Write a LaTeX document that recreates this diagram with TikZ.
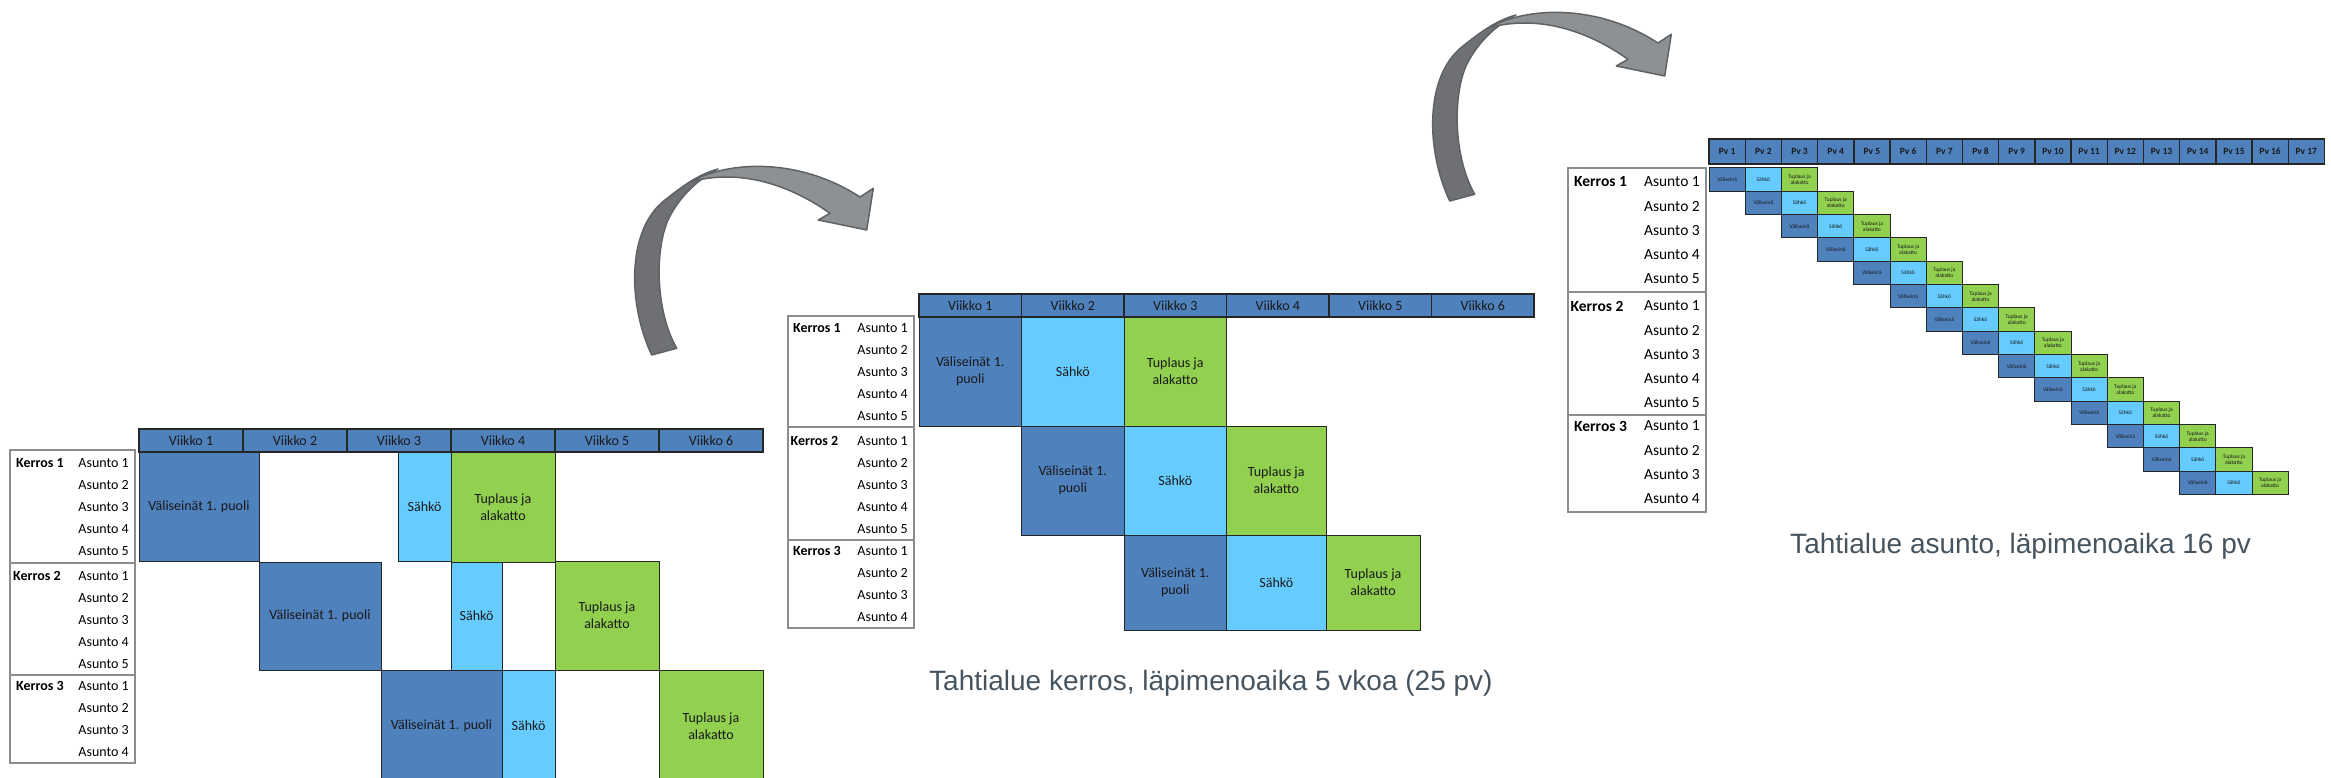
\documentclass[tikz,border=0pt]{standalone}
\usepackage{fontspec}
\setmainfont{Carlito}
\newfontfamily\capfont{Liberation Sans}
\definecolor{vsblue}{HTML}{4F81BD}
\definecolor{sablue}{HTML}{66CCFF}
\definecolor{tugreen}{HTML}{92D050}
\definecolor{arrlight}{HTML}{8D9194}
\definecolor{arrdark}{HTML}{6E7073}
\definecolor{arredge}{HTML}{5F6366}
\definecolor{capgray}{HTML}{465460}
\tikzset{
  cell/.style={draw=black!85, line width=1, inner sep=0, outer sep=0, anchor=north west, align=center, text=black!90},
  hdr/.style={cell, fill=vsblue, line width=1.4},
  vs/.style={cell, fill=vsblue},
  sa/.style={cell, fill=sablue},
  tu/.style={cell, fill=tugreen},
  wk/.style={font=\fontsize{14}{17.3}\selectfont},
  pv/.style={font=\fontsize{15.5}{18}\selectfont},
  pvhead/.style={font=\fontsize{9.5}{11}\selectfont\bfseries},
  pvcell/.style={minimum width=36.2, minimum height=23.33, font=\fontsize{5.5}{6}\selectfont},
  lbl/.style={inner sep=0, anchor=east},
  kerros/.style={inner sep=0, anchor=west, execute at begin node=\bfseries},
  box/.style={draw=black!45, line width=1.5},
  capt/.style={inner sep=0, anchor=base west, text=capgray, font=\capfont\fontsize{28}{32}\selectfont},
  arr/.style={draw=arredge, line width=1.5, line join=round}
}
\begin{document}
\begin{tikzpicture}[x=1pt, y=-1pt]
\useasboundingbox (0,0) rectangle (2331,778);

% kaarinuolet
\foreach \dx/\dy in {0/0, 798/-154} {
  \begin{scope}[shift={(\dx,\dy)}]
    \filldraw[arr, fill=arrdark] (651.7,355) .. controls (628,305) and (626,230) .. (665,200) .. controls (685,184) and (700,174) .. (718,169) .. controls (700,178) and (680,195) .. (668,220) .. controls (655,250) and (655,310) .. (676.7,348.3) -- cycle;
    \filldraw[arr, fill=arrlight] (690,182) .. controls (730,160) and (800,158) .. (860,197) -- (873.3,188.3) -- (866.7,230) -- (818.3,220) -- (830,213.3) .. controls (790,185) and (740,168) .. (690,182) -- cycle;
  \end{scope}
}

% vasen: lahtotilanne
\foreach \i in {1,...,6}
  \node[hdr, wk, minimum width=104, minimum height=23] (l-h\i) at ({139+104*(\i-1)},429) {Viikko \i};
\node[vs, wk, minimum width=120, minimum height=109] (l-v1) at (139,452) {Väliseinät 1. puoli};
\node[sa, wk, minimum width=53, minimum height=109] (l-s1) at (398,452) {Sähkö};
\node[tu, wk, minimum width=104, minimum height=110] (l-t1) at (451,452) {Tuplaus ja\\alakatto};
\node[vs, wk, minimum width=122, minimum height=108] (l-v2) at (259,562) {Väliseinät 1. puoli};
\node[sa, wk, minimum width=51, minimum height=108] (l-s2) at (451,562) {Sähkö};
\node[tu, wk, minimum width=104, minimum height=109] (l-t2) at (555,561) {Tuplaus ja\\alakatto};
\node[vs, wk, minimum width=121, minimum height=112] (l-v3) at (381,670) {Väliseinät 1. puoli};
\node[sa, wk, minimum width=53, minimum height=112] (l-s3) at (502,670) {Sähkö};
\node[tu, wk, minimum width=104, minimum height=112] (l-t3) at (659,670) {Tuplaus ja\\alakatto};

\draw[box] (10,450) rectangle (135,763);
\draw[box] (10,563) -- (135,563);
\draw[box] (10,675) -- (135,675);
\node[kerros, wk] (l-k1) at (16,463) {Kerros 1};
\node[kerros, wk] (l-k2) at (13,576) {Kerros 2};
\node[kerros, wk] (l-k3) at (16,686) {Kerros 3};
\foreach \y [count=\k] in {463,485,507,529,551}
  \node[lbl, wk] (l-a1\k) at (129,\y) {Asunto \k};
\foreach \y [count=\k] in {576,598,620,642,664}
  \node[lbl, wk] (l-a2\k) at (129,\y) {Asunto \k};
\foreach \y [count=\k] in {686,708,730,752}
  \node[lbl, wk] (l-a3\k) at (129,\y) {Asunto \k};

% keskella: tahtialue kerros
\foreach \i in {1,...,6}
  \node[hdr, wk, minimum width=102.5, minimum height=23] (m-h\i) at ({919+102.5*(\i-1)},294) {Viikko \i};
\node[vs, wk, minimum width=102.5, minimum height=109] (m-v1) at (919,317) {Väliseinät 1.\\puoli};
\node[sa, wk, minimum width=102.5, minimum height=109] (m-s1) at (1021.5,317) {Sähkö};
\node[tu, wk, minimum width=102.5, minimum height=109] (m-t1) at (1124,317) {Tuplaus ja\\alakatto};
\node[vs, wk, minimum width=102.5, minimum height=109] (m-v2) at (1021.5,426) {Väliseinät 1.\\puoli};
\node[sa, wk, minimum width=102.5, minimum height=109] (m-s2) at (1124,426) {Sähkö};
\node[tu, wk, minimum width=99.5, minimum height=109] (m-t2) at (1226.5,426) {Tuplaus ja\\alakatto};
\node[vs, wk, minimum width=102.5, minimum height=95] (m-v3) at (1124,535) {Väliseinät 1.\\puoli};
\node[sa, wk, minimum width=99.5, minimum height=95] (m-s3) at (1226.5,535) {Sähkö};
\node[tu, wk, minimum width=94, minimum height=95] (m-t3) at (1326,535) {Tuplaus ja\\alakatto};

\draw[box] (788,316) rectangle (914,628);
\draw[box] (788,427) -- (914,427);
\draw[box] (788,540) -- (914,540);
\node[kerros, wk] (m-k1) at (793,328) {Kerros 1};
\node[kerros, wk] (m-k2) at (790.5,441) {Kerros 2};
\node[kerros, wk] (m-k3) at (793,551) {Kerros 3};
\foreach \y [count=\k] in {328,350,372,394,416}
  \node[lbl, wk] (m-a1\k) at (908,\y) {Asunto \k};
\foreach \y [count=\k] in {441,463,485,507,529}
  \node[lbl, wk] (m-a2\k) at (908,\y) {Asunto \k};
\foreach \y [count=\k] in {551,573,595,617}
  \node[lbl, wk] (m-a3\k) at (908,\y) {Asunto \k};
\node[capt] (m-cap) at (929,690) {Tahtialue kerros, läpimenoaika 5 vkoa (25 pv)};

% oikealla: tahtialue asunto
\foreach \i in {1,...,17}
  \node[hdr, pvhead, minimum width=36.2, minimum height=25] (r-h\i) at ({1709+36.2*(\i-1)},139) {Pv \i};
\foreach \r in {0,...,13} {
  \node[vs, pvcell] (r-v\r) at ({1709+36.2*\r},{168+23.33*\r}) {Väliseinä};
  \node[sa, pvcell] (r-s\r) at ({1709+36.2*(\r+1)},{168+23.33*\r}) {Sähkö};
  \node[tu, pvcell] (r-t\r) at ({1709+36.2*(\r+2)},{168+23.33*\r}) {Tuplaus ja\\alakatto};
}

\draw[box] (1568,168) rectangle (1706,512);
\draw[box] (1568,292) -- (1706,292);
\draw[box] (1568,415) -- (1706,415);
\node[kerros, pv] (r-k1) at (1574,182) {Kerros 1};
\node[kerros, pv] (r-k2) at (1570.5,306) {Kerros 2};
\node[kerros, pv] (r-k3) at (1574,426) {Kerros 3};
\foreach \k in {1,...,5}
  \node[lbl, pv] (r-a1\k) at (1700,{182+24.2*(\k-1)}) {Asunto \k};
\foreach \k in {1,...,5}
  \node[lbl, pv] (r-a2\k) at (1700,{306+24.2*(\k-1)}) {Asunto \k};
\foreach \k in {1,...,4}
  \node[lbl, pv] (r-a3\k) at (1700,{426+24.3*(\k-1)}) {Asunto \k};
\node[capt] (r-cap) at (1790,553) {Tahtialue asunto, läpimenoaika 16 pv};
\end{tikzpicture}
\end{document}
